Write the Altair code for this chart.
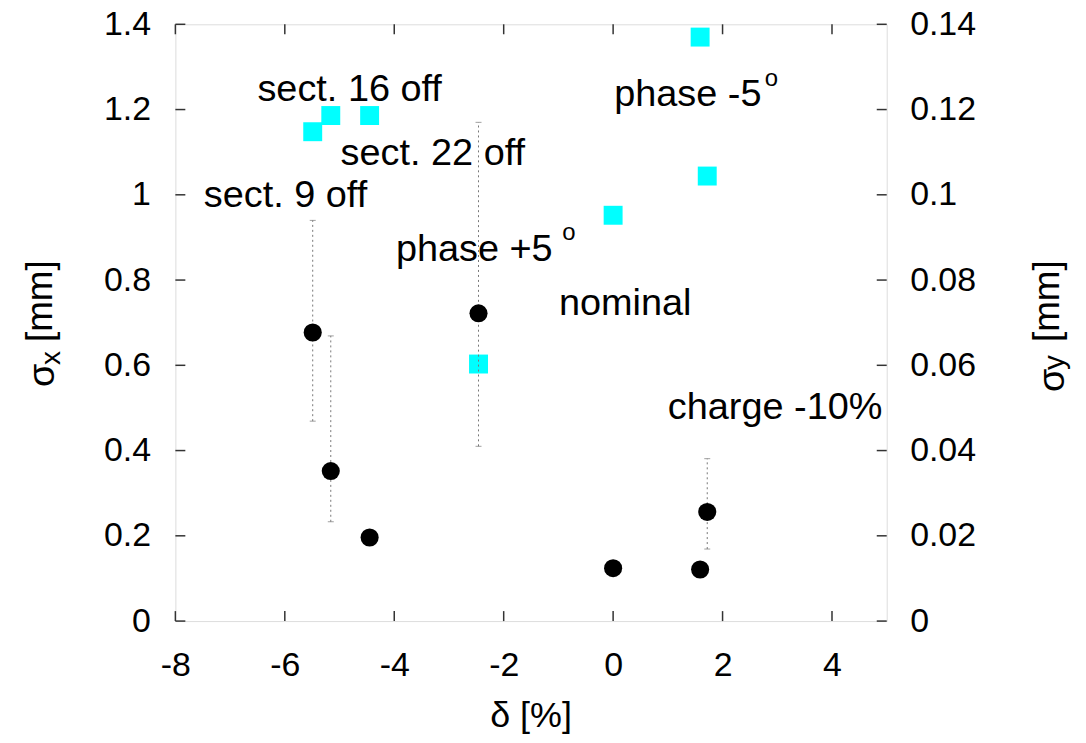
import altair as alt
import pandas as pd

# ---- data ----
delta = [-5.49, -5.16, -4.45, -2.46, 0.0, 1.59, 1.72]
sigma_x = [0.677, 0.352, 0.196, 0.722, 0.124, 0.121, 0.256]
sigma_y = [0.1148, 0.1186, 0.1186, 0.0603, 0.0952, 0.1370, 0.1044]

err_delta = [-5.49, -5.16, -2.46, 1.72]
err_lo = [0.469, 0.233, 0.410, 0.169]
err_hi = [0.940, 0.669, 1.170, 0.381]

labels = ["sect. 16 off", "sect. 22 off", "sect. 9 off", "phase +5",
          "phase -5", "nominal", "charge -10%"]
label_x = [-6.50, -4.98, -7.48, -3.97, 0.02, -0.99, 1.00]
label_y = [1.221, 1.069, 0.971, 0.845, 1.209, 0.718, 0.473]

sup_text = ["o", "o"]
sup_x = [-0.93, 2.77]
sup_y = [0.894, 1.256]

x_ticks = [-8, -6, -4, -2, 0, 2, 4]
yl_ticks = [0, 0.2, 0.4, 0.6, 0.8, 1.0, 1.2, 1.4]
yr_ticks = [0, 0.02, 0.04, 0.06, 0.08, 0.10, 0.12, 0.14]

# ---- layout ----
W, H = 714, 599
FONT = "Liberation Sans"
FRAME = "#333333"

xscale = alt.Scale(domain=[-8, 5], nice=False, zero=False)
yscale = alt.Scale(domain=[0, 1.4], nice=False)
yrscale = alt.Scale(domain=[0, 0.14], nice=False)

common_axis = dict(ticks=False, domain=False, grid=False, labelFont=FONT,
                   labelFontSize=34, labelColor="black", title=None,
                   labelExpr="toString(datum.value)",
                   labelOverlap=False, labelFlush=False)
xaxis = alt.Axis(values=x_ticks, orient="bottom", labelPadding=28, **common_axis)
yaxis = alt.Axis(values=yl_ticks, orient="left", labelPadding=25, **common_axis)
yraxis = alt.Axis(values=yr_ticks, orient="right", labelPadding=23, **common_axis)


def X(f):
    return alt.X(f, type="quantitative", scale=xscale, axis=xaxis)


def Y(f):
    return alt.Y(f, type="quantitative", scale=yscale, axis=yaxis)


pts = pd.DataFrame({"delta": delta, "sx": sigma_x, "sy": sigma_y})
err = pd.DataFrame({"d": err_delta, "lo": err_lo, "hi": err_hi})
lab = pd.DataFrame({"x": label_x, "y": label_y, "t": labels})
sup = pd.DataFrame({"x": sup_x, "y": sup_y, "t": sup_text})
xt = pd.DataFrame({"t": x_ticks})
yt = pd.DataFrame({"t": yl_ticks})

squares = alt.Chart(pts).mark_square(size=361, color="#00FFFF", opacity=1).encode(
    x=X("delta"), y=alt.Y("sy:Q", scale=yrscale, axis=yraxis)
)

errbars = alt.Chart(err).mark_rule(color="#777777", strokeWidth=1, strokeDash=[2, 3]).encode(
    x=X("d"), y=Y("lo"), y2="hi:Q"
)
cap_lo = alt.Chart(err).mark_tick(orient="horizontal", size=6, thickness=1, color="#777777").encode(
    x=X("d"), y=Y("lo")
)
cap_hi = alt.Chart(err).mark_tick(orient="horizontal", size=6, thickness=1, color="#777777").encode(
    x=X("d"), y=Y("hi")
)
circles = alt.Chart(pts).mark_circle(size=330, color="black", opacity=1).encode(
    x=X("delta"), y=Y("sx")
)
texts = alt.Chart(lab).mark_text(align="left", baseline="alphabetic", font=FONT,
                                 fontSize=38, color="black").encode(
    x=X("x"), y=Y("y"), text="t:N"
)
sups = alt.Chart(sup).mark_text(align="left", baseline="alphabetic", font=FONT,
                                fontSize=24, color="black").encode(
    x=X("x"), y=Y("y"), text="t:N"
)

tick_kw = dict(color=FRAME, strokeWidth=1.5)
t_bottom = alt.Chart(xt).mark_rule(**tick_kw).encode(x=X("t"), y=alt.value(H), y2=alt.value(H - 10))
t_top = alt.Chart(xt).mark_rule(**tick_kw).encode(x=X("t"), y=alt.value(0), y2=alt.value(10))
t_left = alt.Chart(yt).mark_rule(**tick_kw).encode(y=Y("t"), x=alt.value(0), x2=alt.value(10))
t_right = alt.Chart(yt).mark_rule(**tick_kw).encode(y=Y("t"), x=alt.value(W - 10), x2=alt.value(W))


def txt(s, px, py, size, angle=0, align="left"):
    return alt.Chart(pd.DataFrame({"s": [s]})).mark_text(
        align=align, baseline="alphabetic", font=FONT, fontSize=size,
        angle=angle, color="black"
    ).encode(x=alt.value(px), y=alt.value(py), text="s:N")


titles = [
    txt("δ [%]", W / 2, 705, 36, align="center"),
    txt("σ", -122, 364, 38, angle=270),
    txt("x", -116, 342, 28, angle=270),
    txt("[mm]", -124, 319, 37, angle=270),
    txt("σ", 892, 369, 38, angle=270),
    txt("y", 892, 347, 30, angle=270),
    txt("[mm]", 887, 319, 37, angle=270),
]

left_group = alt.layer(errbars, cap_lo, cap_hi, circles, texts, sups,
                       t_bottom, t_top, t_left, t_right, *titles)

chart = alt.layer(squares, left_group).resolve_scale(y="independent").properties(
    width=W, height=H,
    autosize=alt.AutoSizeParams(type="none"),
    padding={"left": 168, "top": 15, "right": 192, "bottom": 114},
).configure_view(stroke=FRAME, strokeWidth=1.5).configure(background="white")

chart.save("out.html", embed_options={"renderer": "svg", "actions": False})
